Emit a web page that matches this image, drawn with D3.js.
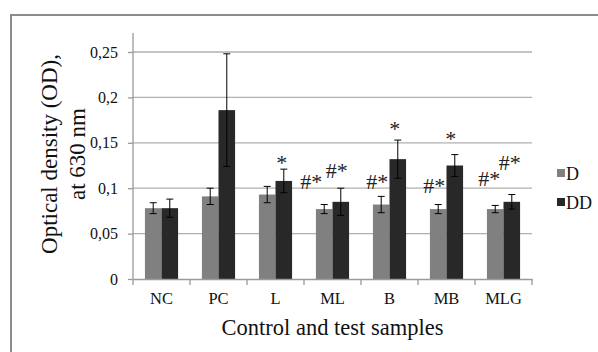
<!DOCTYPE html>
<html>
<head>
<meta charset="utf-8">
<script src="https://cdn.jsdelivr.net/npm/d3@7"></script>
<style>
  body { margin: 0; background: #fff; }
</style>
</head>
<body>
<div id="chart"></div>
<script>
// samples on the x axis
var categories = ["NC", "PC", "L", "ML", "B", "MB", "MLG"];
var seriesNames = ["D", "DD"];
// mean OD
var valuesD  = [0.078, 0.091, 0.093, 0.077, 0.082, 0.077, 0.077];
var valuesDD = [0.078, 0.186, 0.108, 0.085, 0.132, 0.125, 0.085];
// error bar half widths
var errD  = [0.006, 0.009, 0.009, 0.005, 0.009, 0.005, 0.004];
var errDD = [0.010, 0.062, 0.013, 0.015, 0.021, 0.012, 0.008];
var yTicks = [0, 0.05, 0.1, 0.15, 0.2, 0.25];
var yTickLabels = ["0", "0,05", "0,1", "0,15", "0,2", "0,25"];
// significance marks: category, series, text, baseline height (OD units)
var marks = [
  ["L", "DD", "*", 0.120],
  ["ML", "D", "#*", 0.099],
  ["ML", "DD", "#*", 0.111],
  ["B", "D", "#*", 0.099],
  ["B", "DD", "*", 0.157],
  ["MB", "D", "#*", 0.095],
  ["MB", "DD", "*", 0.146],
  ["MLG", "D", "#*", 0.102],
  ["MLG", "DD", "#*", 0.120]
];
// hand nudges of the marks, like in the original (px)
var markNudge = [-2, -13, -4, -4, -3, -4, -4, -6, -2];

var serif = "'Liberation Serif', 'DejaVu Serif', 'Times New Roman', serif";
var width = 598, height = 352;
var margin = {left: 133, right: 66, top: 52, bottom: 73};

var svg = d3.select("#chart").append("svg")
  .attr("width", width)
  .attr("height", height)
  .attr("font-family", serif);

// outer frame, runs off the right and bottom edges
svg.append("rect")
  .attr("x", 11).attr("y", 15)
  .attr("width", 620).attr("height", 360)
  .attr("fill", "none")
  .attr("stroke", "#8c8c8c")
  .attr("stroke-width", 2);

var x = d3.scaleBand()
  .domain(categories)
  .range([margin.left, width - margin.right]);

var xInner = d3.scaleBand()
  .domain(seriesNames)
  .range([0, x.bandwidth()])
  .paddingInner(0)
  .paddingOuter(0.72);

var y = d3.scaleLinear()
  .domain([0, 0.25])
  .range([height - margin.bottom, margin.top]);

var colours = {D: "#808080", DD: "#282828"};

// gridlines
svg.append("g")
  .selectAll("line")
  .data(yTicks.filter(d => d > 0))
  .enter().append("line")
  .attr("x1", margin.left).attr("x2", width - margin.right)
  .attr("y1", d => y(d)).attr("y2", d => y(d))
  .attr("stroke", "#b0b0b0")
  .attr("stroke-width", 1.3);

// y axis
var yAxis = d3.axisLeft(y)
  .tickValues(yTicks)
  .tickFormat((d, i) => yTickLabels[i])
  .tickSize(5)
  .tickPadding(10);
var gy = svg.append("g")
  .attr("transform", `translate(${margin.left},0)`)
  .call(yAxis)
  .attr("font-family", serif)
  .attr("font-size", 16);
gy.select(".domain").remove();
gy.append("line")
  .attr("x1", 0).attr("x2", 0)
  .attr("y1", 33).attr("y2", y(0))
  .attr("stroke", "#9a9a9a").attr("stroke-width", 1.3);
gy.selectAll(".tick line").attr("stroke", "#9a9a9a").attr("stroke-width", 1.3);
gy.selectAll(".tick text").attr("fill", "#111");

// data rows
var rows = categories.map((c, i) => ({
  cat: c,
  bars: [
    {s: "D", v: valuesD[i], e: errD[i]},
    {s: "DD", v: valuesDD[i], e: errDD[i]}
  ]
}));

var groups = svg.selectAll(".cat")
  .data(rows)
  .enter().append("g")
  .attr("class", "cat")
  .attr("transform", d => `translate(${x(d.cat)},0)`);

var bar = groups.selectAll(".b")
  .data(d => d.bars)
  .enter().append("g").attr("class", "b");

bar.append("rect")
  .attr("x", d => xInner(d.s))
  .attr("width", xInner.bandwidth())
  .attr("y", d => y(d.v))
  .attr("height", d => y(0) - y(d.v))
  .attr("fill", d => colours[d.s]);

// error bars
var cx = d => xInner(d.s) + xInner.bandwidth() / 2;
bar.append("line")
  .attr("x1", cx).attr("x2", cx)
  .attr("y1", d => y(d.v - d.e)).attr("y2", d => y(d.v + d.e))
  .attr("stroke", "#000").attr("stroke-width", 1);
bar.selectAll(".cap")
  .data(d => [{s: d.s, yv: d.v - d.e}, {s: d.s, yv: d.v + d.e}])
  .enter().append("line")
  .attr("x1", d => cx(d) - 3.5).attr("x2", d => cx(d) + 3.5)
  .attr("y1", d => y(d.yv)).attr("y2", d => y(d.yv))
  .attr("stroke", "#000").attr("stroke-width", 1);

// x axis
var xAxis = d3.axisBottom(x).tickSize(0).tickPadding(13);
var gx = svg.append("g")
  .attr("transform", `translate(0,${y(0)})`)
  .call(xAxis)
  .attr("font-family", serif)
  .attr("font-size", 16.5);
gx.select(".domain").attr("stroke", "#9a9a9a").attr("stroke-width", 1.3);
gx.selectAll(".tick text").attr("fill", "#111");
gx.selectAll(".sep")
  .data(categories.concat(["end"]))
  .enter().append("line")
  .attr("x1", (d, i) => margin.left + i * x.step())
  .attr("x2", (d, i) => margin.left + i * x.step())
  .attr("y1", 0).attr("y2", 6)
  .attr("stroke", "#9a9a9a").attr("stroke-width", 1.3);

// significance marks
svg.selectAll(".mark")
  .data(marks)
  .enter().append("text")
  .attr("class", "mark")
  .attr("x", (d, i) => x(d[0]) + xInner(d[1]) + xInner.bandwidth() / 2 + markNudge[i])
  .attr("y", d => y(d[3]))
  .attr("text-anchor", "middle")
  .attr("font-size", 22)
  .attr("fill", "#222")
  .text(d => d[2]);

// legend
var legend = svg.selectAll(".leg")
  .data(seriesNames)
  .enter().append("g")
  .attr("transform", (d, i) => `translate(557,${169 + i * 29})`);
legend.append("rect")
  .attr("width", 8).attr("height", 8)
  .attr("fill", d => colours[d]);
legend.append("text")
  .attr("x", 9).attr("y", 11)
  .attr("font-size", 18)
  .attr("fill", "#111")
  .text(d => d);

// axis titles
svg.append("text")
  .attr("x", (margin.left + width - margin.right) / 2)
  .attr("y", 335)
  .attr("text-anchor", "middle")
  .attr("font-size", 22.5)
  .attr("fill", "#111")
  .text("Control and test samples");

var yt = svg.append("text")
  .attr("transform", "translate(57,154) rotate(-90)")
  .attr("text-anchor", "middle")
  .attr("font-size", 23)
  .attr("fill", "#111");
yt.append("tspan").attr("x", 0).attr("dy", 0).text("Optical density (OD),");
yt.append("tspan").attr("x", 0).attr("dy", 28).text("at 630 nm");
</script>
</body>
</html>
